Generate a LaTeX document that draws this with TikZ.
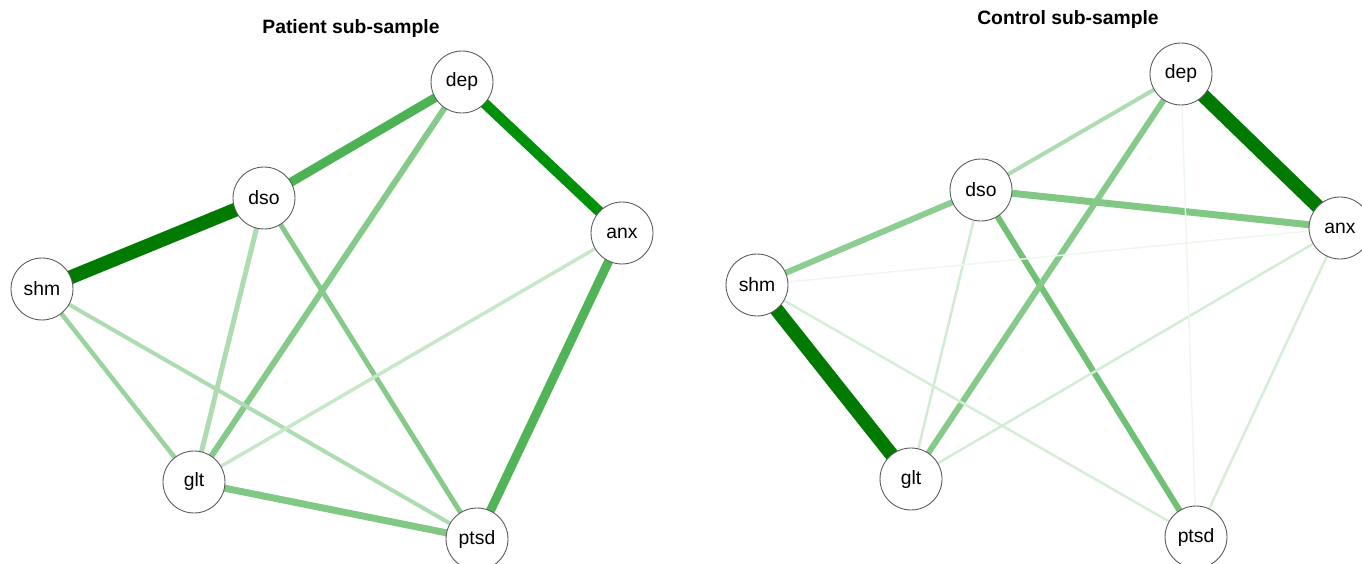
\documentclass[tikz,border=0pt]{standalone}
\usepackage{fontspec}
\setmainfont{Liberation Sans}
\usepackage{xcolor}
\usepackage{tikz}
\usetikzlibrary{positioning,calc,backgrounds}

\definecolor{netdark}{RGB}{0,122,0}
\definecolor{netgreen}{RGB}{0,145,10}

\tikzset{
    symptom/.style={circle, draw=black!65, line width=0.5pt, fill=white, minimum size=1.24cm, inner sep=0pt, font=\fontsize{11}{13}\selectfont},
    paneltitle/.style={font=\fontsize{11}{13}\selectfont\bfseries}
}

\begin{document}
\begin{tikzpicture}[x=0.02cm, y=-0.02cm]
    \useasboundingbox (0,0) rectangle (1362,564);

    % Patient
    \node[paneltitle] (ptitle) at (351,29) {Patient sub-sample};
    \node[symptom] (pdep) at (462,82) {dep};
    \node[symptom] (pdso) at (264,198) {dso};
    \node[symptom] (panx) at (622,233) {anx};
    \node[symptom] (pshm) at (42,289) {shm};
    \node[symptom] (pglt) at (194,482) {glt};
    \node[symptom] (pptsd) at (477,539) {ptsd};

    % Control
    \node[paneltitle] (ctitle) at (1068,20) {Control sub-sample};
    \node[symptom] (cdep) at (1181,74) {dep};
    \node[symptom] (cdso) at (981,190) {dso};
    \node[symptom] (canx) at (1340,228) {anx};
    \node[symptom] (cshm) at (757,285) {shm};
    \node[symptom] (cglt) at (911,479) {glt};
    \node[symptom] (cptsd) at (1196,537) {ptsd};

    % edges (width in px / colour)
    \begin{pgfonlayer}{background}
        \foreach \a/\b/\w/\col in {
            pshm/pdso/14/netdark, pdep/panx/10.5/netgreen, pdso/pdep/9/netgreen!70,
            panx/pptsd/9/netgreen!68, pdep/pglt/6/netgreen!48, pglt/pptsd/7/netgreen!50,
            pdso/pptsd/5/netgreen!48, pdso/pglt/5/netgreen!32, pshm/pglt/4.5/netgreen!40,
            pshm/pptsd/4/netgreen!32, panx/pglt/3.5/netgreen!22}
            \draw[line width=\w*0.567pt, color=\col] (\a.center) -- (\b.center);

        \foreach \a/\b/\w/\col in {
            cdep/canx/14/netdark, cshm/cglt/14/netdark, cdso/canx/7/netgreen!50,
            cdso/cptsd/6/netgreen!56, cdep/cglt/6/netgreen!48, cshm/cdso/6/netgreen!45,
            cdep/cdso/4/netgreen!32, cdso/cglt/2.5/netgreen!18, cshm/cptsd/2.5/netgreen!16,
            canx/cglt/2.5/netgreen!17, canx/cptsd/2.5/netgreen!16, cshm/canx/1.5/netgreen!7,
            cdep/cptsd/1.5/netgreen!7}
            \draw[line width=\w*0.567pt, color=\col] (\a.center) -- (\b.center);
    \end{pgfonlayer}
\end{tikzpicture}
\end{document}
